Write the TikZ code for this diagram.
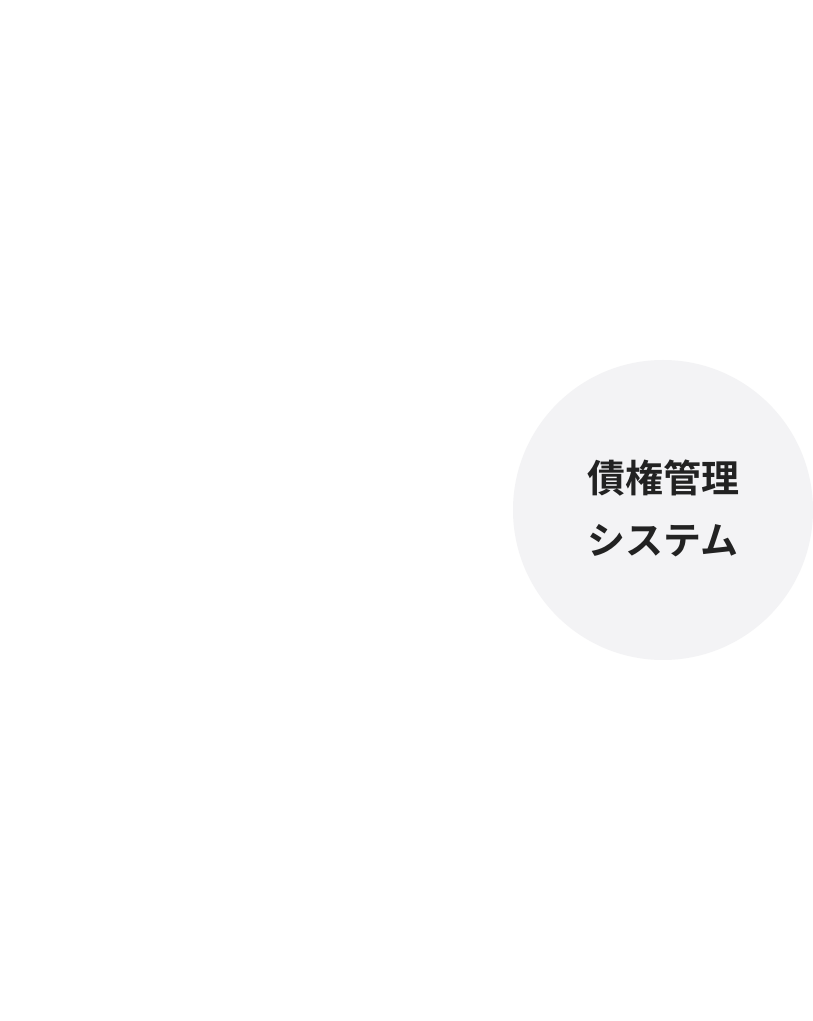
\documentclass[tikz,border=0pt]{standalone}
\usepackage{fontspec}
\newfontfamily\cjk{Noto Sans CJK JP}[BoldFont={* Bold}]
\definecolor{circfill}{HTML}{F3F3F5}
\definecolor{txt}{HTML}{222222}
\tikzset{hub/.style={circle, fill=circfill, minimum size=300pt, inner sep=0pt},
  hubtext/.style={text=txt, font=\cjk\bfseries\fontsize{38}{62}\selectfont, align=center}}
\begin{document}
\begin{tikzpicture}[x=1pt,y=1pt]
\useasboundingbox[fill=white] (0,0) rectangle (813,1021);
\node[hub] (sys) at (663,511) {};
\node[hubtext] (label) at (663,513) {債権管理\\システム};
\end{tikzpicture}
\end{document}
